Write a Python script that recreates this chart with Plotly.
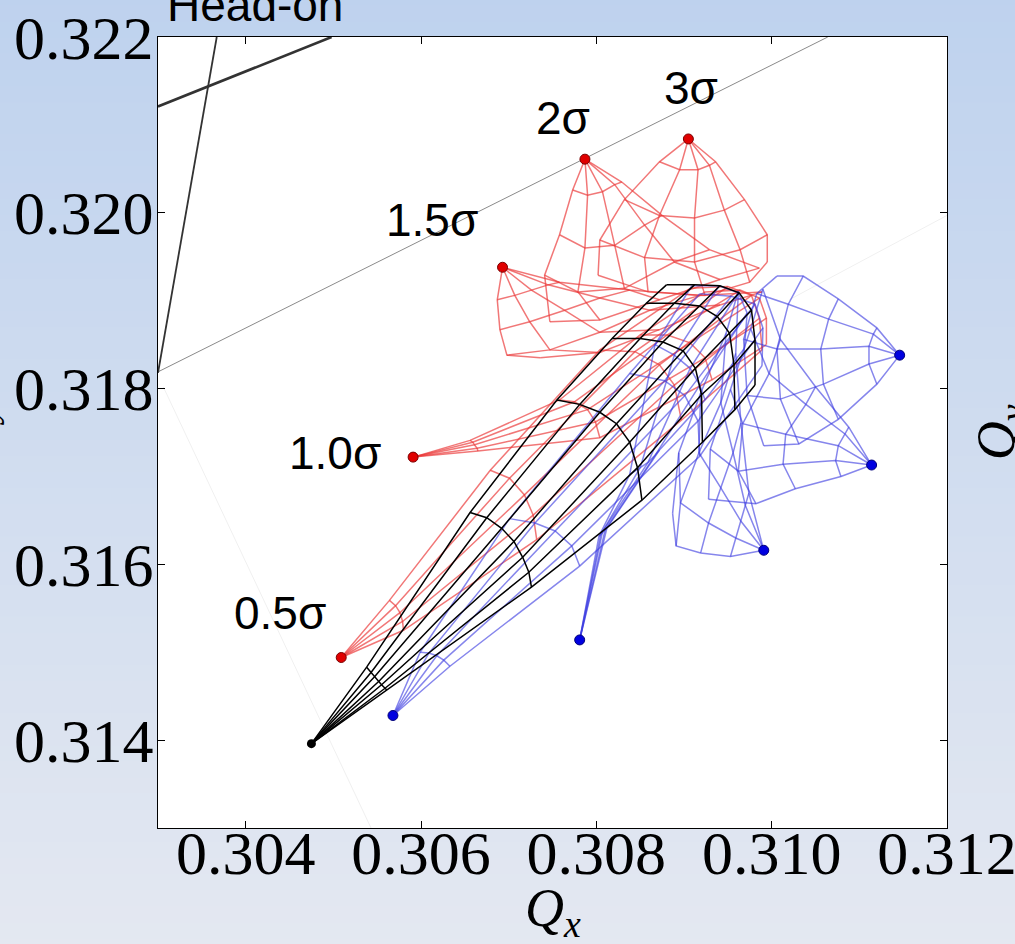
import plotly.graph_objects as go

# ---------------- data (tunes) ----------------
# head-on footprint (black): origin + amplitude arcs (7 angles each)
black_origin_qx = 0.30475
black_origin_qy = 0.31396
black_qx = [
    [0.30538, 0.30543, 0.30547, 0.30552, 0.30555, 0.30559, 0.30561],
    [0.30656, 0.30675, 0.30692, 0.30706, 0.30716, 0.30723, 0.30726],
    [0.30755, 0.30781, 0.30804, 0.30823, 0.30838, 0.30847, 0.30852],
    [0.30818, 0.30850, 0.30876, 0.30899, 0.30913, 0.30920, 0.30921],
    [0.30857, 0.30889, 0.30918, 0.30938, 0.30952, 0.30957, 0.30958],
    [0.30880, 0.30912, 0.30941, 0.30963, 0.30977, 0.30981, 0.30981],
]
black_qy = [
    [0.31483, 0.31477, 0.31472, 0.31467, 0.31463, 0.31459, 0.31457],
    [0.31659, 0.31653, 0.31641, 0.31626, 0.31608, 0.31591, 0.31574],
    [0.31787, 0.31782, 0.31773, 0.31760, 0.31739, 0.31710, 0.31673],
    [0.31857, 0.31857, 0.31853, 0.31843, 0.31823, 0.31793, 0.31739],
    [0.31897, 0.31897, 0.31894, 0.31882, 0.31863, 0.31827, 0.31776],
    [0.31918, 0.31918, 0.31917, 0.31909, 0.31889, 0.31855, 0.31804],
]

sep_labels = ["0.5σ", "1.0σ", "1.5σ", "2σ", "3σ"]
label_qx = [0.30439, 0.30502, 0.30612, 0.30762, 0.30908]
label_qy = [0.31542, 0.31724, 0.31990, 0.32106, 0.32140]

red_dot_qx = [0.30509, 0.30591, 0.30693, 0.30787, 0.30905]
red_dot_qy = [0.31494, 0.31722, 0.31938, 0.32061, 0.32084]
blue_dot_qx = [0.30568, 0.30781, 0.30991, 0.31114, 0.31146]
blue_dot_qy = [0.31428, 0.31514, 0.31616, 0.31713, 0.31838]

red_05_qx = [[0.30564, 0.30571, 0.30576, 0.30579, 0.30580],
             [0.30679, 0.30701, 0.30718, 0.30728, 0.30732],
             [0.30804, 0.30844, 0.30872, 0.30889, 0.30897],
             [0.30907, 0.30950, 0.30977, 0.30986, 0.30989]]
red_05_qy = [[0.31559, 0.31553, 0.31545, 0.31535, 0.31525],
             [0.31707, 0.31698, 0.31679, 0.31656, 0.31628],
             [0.31844, 0.31842, 0.31827, 0.31804, 0.31764],
             [0.31914, 0.31916, 0.31906, 0.31880, 0.31844]]
red_10_qx = [[0.30656, 0.30659, 0.30661, 0.30664, 0.30665],
             [0.30758, 0.30775, 0.30790, 0.30799, 0.30804],
             [0.30850, 0.30881, 0.30907, 0.30924, 0.30932],
             [0.30924, 0.30964, 0.30986, 0.30994, 0.30994]]
red_10_qy = [[0.31741, 0.31739, 0.31736, 0.31732, 0.31729],
             [0.31787, 0.31785, 0.31776, 0.31762, 0.31744],
             [0.31861, 0.31861, 0.31852, 0.31835, 0.31810],
             [0.31910, 0.31912, 0.31903, 0.31880, 0.31850]]
red_15_qx = [[0.30687, 0.30707, 0.30726, 0.30745, 0.30758],
             [0.30690, 0.30724, 0.30764, 0.30804, 0.30838],
             [0.30698, 0.30747, 0.30804, 0.30861, 0.30918],
             [0.30736, 0.30804, 0.30872, 0.30941, 0.30989]]
red_15_qy = [[0.31901, 0.31906, 0.31912, 0.31918, 0.31921],
             [0.31867, 0.31876, 0.31889, 0.31903, 0.31912],
             [0.31838, 0.31844, 0.31864, 0.31889, 0.31906],
             [0.31835, 0.31841, 0.31867, 0.31895, 0.31910]]
red_20_qx = [[0.30773, 0.30790, 0.30807, 0.30821, 0.30829],
             [0.30758, 0.30787, 0.30821, 0.30855, 0.30875],
             [0.30741, 0.30779, 0.30832, 0.30889, 0.30929],
             [0.30747, 0.30804, 0.30872, 0.30941, 0.30986]]
red_20_qy = [[0.32026, 0.32020, 0.32024, 0.32032, 0.32035],
             [0.31975, 0.31960, 0.31963, 0.31986, 0.31997],
             [0.31929, 0.31910, 0.31914, 0.31944, 0.31958],
             [0.31876, 0.31878, 0.31901, 0.31924, 0.31937]]
red_30_qx = [[0.30872, 0.30895, 0.30916, 0.30929, 0.30936],
             [0.30832, 0.30872, 0.30912, 0.30946, 0.30969],
             [0.30804, 0.30855, 0.30912, 0.30964, 0.30995],
             [0.30802, 0.30859, 0.30924, 0.30975, 0.30995]]
red_30_qy = [[0.32058, 0.32049, 0.32049, 0.32054, 0.32058],
             [0.32015, 0.31997, 0.31994, 0.32003, 0.32015],
             [0.31969, 0.31949, 0.31944, 0.31958, 0.31975],
             [0.31929, 0.31910, 0.31906, 0.31921, 0.31944]]

blue_05_qx = [[0.30633, 0.30626, 0.30618, 0.30609, 0.30599],
              [0.30781, 0.30772, 0.30753, 0.30730, 0.30701],
              [0.30918, 0.30916, 0.30901, 0.30878, 0.30838],
              [0.30989, 0.30990, 0.30981, 0.30954, 0.30918]]
blue_05_qy = [[0.31484, 0.31491, 0.31496, 0.31499, 0.31500],
              [0.31598, 0.31621, 0.31638, 0.31647, 0.31652],
              [0.31723, 0.31763, 0.31792, 0.31809, 0.31817],
              [0.31826, 0.31869, 0.31896, 0.31905, 0.31908]]
blue_10_qx = [[0.30812, 0.30810, 0.30807, 0.30805, 0.30803],
              [0.30872, 0.30867, 0.30859, 0.30850, 0.30838],
              [0.30924, 0.30918, 0.30907, 0.30889, 0.30867],
              [0.30969, 0.30972, 0.30962, 0.30940, 0.30909]]
blue_10_qy = [[0.31641, 0.31639, 0.31637, 0.31634, 0.31632],
              [0.31730, 0.31724, 0.31716, 0.31710, 0.31702],
              [0.31787, 0.31804, 0.31823, 0.31838, 0.31850],
              [0.31846, 0.31886, 0.31909, 0.31917, 0.31917]]
blue_15_qx = [[0.30953, 0.30959, 0.30965, 0.30970, 0.30974],
              [0.30919, 0.30928, 0.30942, 0.30956, 0.30965],
              [0.30891, 0.30896, 0.30917, 0.30942, 0.30959],
              [0.30887, 0.30894, 0.30919, 0.30948, 0.30962]]
blue_15_qy = [[0.31609, 0.31630, 0.31649, 0.31667, 0.31681],
              [0.31613, 0.31647, 0.31687, 0.31727, 0.31761],
              [0.31621, 0.31670, 0.31727, 0.31784, 0.31840],
              [0.31658, 0.31727, 0.31795, 0.31863, 0.31911]]
blue_20_qx = [[0.31079, 0.31073, 0.31076, 0.31084, 0.31088],
              [0.31027, 0.31013, 0.31016, 0.31039, 0.31050],
              [0.30982, 0.30962, 0.30967, 0.30997, 0.31010],
              [0.30928, 0.30930, 0.30953, 0.30976, 0.30990]]
blue_20_qy = [[0.31700, 0.31718, 0.31735, 0.31748, 0.31756],
              [0.31686, 0.31714, 0.31748, 0.31782, 0.31802],
              [0.31669, 0.31706, 0.31760, 0.31817, 0.31856],
              [0.31674, 0.31731, 0.31799, 0.31868, 0.31913]]
blue_30_qx = [[0.31120, 0.31111, 0.31111, 0.31116, 0.31120],
              [0.31076, 0.31059, 0.31056, 0.31065, 0.31076],
              [0.31031, 0.31010, 0.31006, 0.31019, 0.31036],
              [0.30991, 0.30972, 0.30968, 0.30983, 0.31006]]
blue_30_qy = [[0.31805, 0.31828, 0.31848, 0.31862, 0.31869],
              [0.31765, 0.31805, 0.31845, 0.31879, 0.31902],
              [0.31737, 0.31788, 0.31845, 0.31896, 0.31928],
              [0.31735, 0.31792, 0.31856, 0.31908, 0.31928]]

# resonance lines
res_thick_qx = [0.30300, 0.30498]
res_thick_qy = [0.32121, 0.32200]
res_steep_qx = [0.30367, 0.30300]
res_steep_qy = [0.32200, 0.31818]
res_gray_qx = [0.30300, 0.31064]
res_gray_qy = [0.31819, 0.32200]
res_faint1_qx = [0.30306, 0.30543]
res_faint1_qy = [0.31802, 0.31300]
res_faint2_qx = [0.31020, 0.31200]
res_faint2_qy = [0.31901, 0.31997]

x_ticks = [0.304, 0.306, 0.308, 0.310, 0.312]
x_ticktext = ["0.304", "0.306", "0.308", "0.310", "0.312"]
y_ticks = [0.314, 0.316, 0.318, 0.320, 0.322]
y_ticktext = ["0.314", "0.316", "0.318", "0.320", "0.322"]


def wire(dx, dy, rows_x, rows_y):
    xs, ys = [], []
    for rx, ry in zip(rows_x, rows_y):
        xs += list(rx) + [None]
        ys += list(ry) + [None]
    for c in range(len(rows_x[0])):
        xs += [dx] + [r[c] for r in rows_x] + [None]
        ys += [dy] + [r[c] for r in rows_y] + [None]
    return xs, ys


fig = go.Figure()

# resonance lines
fig.add_trace(go.Scatter(x=res_faint1_qx, y=res_faint1_qy, mode="lines",
                         line=dict(color="#f0f0f0", width=1), hoverinfo="skip"))
fig.add_trace(go.Scatter(x=res_faint2_qx, y=res_faint2_qy, mode="lines",
                         line=dict(color="#f0f0f0", width=1), hoverinfo="skip"))
fig.add_trace(go.Scatter(x=res_gray_qx, y=res_gray_qy, mode="lines",
                         line=dict(color="#8a8a8a", width=1), hoverinfo="skip"))
fig.add_trace(go.Scatter(x=res_thick_qx, y=res_thick_qy, mode="lines",
                         line=dict(color="#333333", width=2.6), hoverinfo="skip"))
fig.add_trace(go.Scatter(x=res_steep_qx, y=res_steep_qy, mode="lines",
                         line=dict(color="#333333", width=1.8), hoverinfo="skip"))

red_grids = [(red_05_qx, red_05_qy), (red_10_qx, red_10_qy), (red_15_qx, red_15_qy),
             (red_20_qx, red_20_qy), (red_30_qx, red_30_qy)]
blue_grids = [(blue_05_qx, blue_05_qy), (blue_10_qx, blue_10_qy), (blue_15_qx, blue_15_qy),
              (blue_20_qx, blue_20_qy), (blue_30_qx, blue_30_qy)]

for i, (gx, gy) in enumerate(red_grids):
    xs, ys = wire(red_dot_qx[i], red_dot_qy[i], gx, gy)
    fig.add_trace(go.Scatter(x=xs, y=ys, mode="lines",
                             line=dict(color="rgba(235,55,55,0.68)", width=1.5),
                             hoverinfo="skip"))
for i, (gx, gy) in enumerate(blue_grids):
    xs, ys = wire(blue_dot_qx[i], blue_dot_qy[i], gx, gy)
    fig.add_trace(go.Scatter(x=xs, y=ys, mode="lines",
                             line=dict(color="rgba(60,60,225,0.62)", width=1.5),
                             hoverinfo="skip"))

xs, ys = wire(black_origin_qx, black_origin_qy, black_qx, black_qy)
fig.add_trace(go.Scatter(x=xs, y=ys, mode="lines",
                         line=dict(color="black", width=1.5), hoverinfo="skip"))

fig.add_trace(go.Scatter(x=red_dot_qx, y=red_dot_qy, mode="markers",
                         marker=dict(color="#e00000", size=10,
                                     line=dict(color="#7a0000", width=1))))
fig.add_trace(go.Scatter(x=blue_dot_qx, y=blue_dot_qy, mode="markers",
                         marker=dict(color="#0000e0", size=10,
                                     line=dict(color="#00007a", width=1))))
fig.add_trace(go.Scatter(x=[black_origin_qx], y=[black_origin_qy], mode="markers",
                         marker=dict(color="black", size=9)))

annotations = []
for t, ax_, ay_ in zip(sep_labels, label_qx, label_qy):
    annotations.append(dict(x=ax_, y=ay_, xref="x", yref="y", text=t, showarrow=False,
                            font=dict(family="Liberation Sans", size=46, color="black"),
                            xanchor="center", yanchor="middle", yshift=2))

annotations += [
    dict(x=0.009, y=1, xref="paper", yref="paper", text="Head-on", showarrow=False,
         xanchor="left", yanchor="bottom", yshift=4,
         font=dict(family="Liberation Sans", size=46, color="black")),
    dict(x=0.500, y=-0.106, xref="paper", yref="paper",
         text="<i>Q</i><sub><i>x</i></sub>", showarrow=False,
         xanchor="center", yanchor="middle",
         font=dict(family="Liberation Serif", size=54, color="black")),
    dict(x=1.067, y=0.50, xref="paper", yref="paper",
         text="<i>Q</i><sub><i>y</i></sub>", showarrow=False, textangle=-90,
         xanchor="center", yanchor="middle",
         font=dict(family="Liberation Serif", size=54, color="black")),
    dict(x=-0.238, y=0.50, xref="paper", yref="paper",
         text="<i>Q</i><sub><i>y</i></sub>", showarrow=False, textangle=-90,
         xanchor="center", yanchor="middle",
         font=dict(family="Liberation Serif", size=54, color="black")),
]

# slide background gradient (styling)
shapes = []
nb = 60
top = (190, 210, 238)
bot = (228, 232, 241)
y_lo, y_hi = -0.16, 1.06
for k in range(nb):
    f = k / (nb - 1)
    c = tuple(round(top[j] + (bot[j] - top[j]) * f) for j in range(3))
    y1 = y_hi - (y_hi - y_lo) * k / nb
    y0 = y_hi - (y_hi - y_lo) * (k + 1) / nb - 0.002
    shapes.append(dict(type="rect", xref="paper", yref="paper", x0=-0.3, x1=1.2,
                       y0=y0, y1=y1, fillcolor="rgb(%d,%d,%d)" % c,
                       line=dict(width=0), layer="below"))
shapes.append(dict(type="rect", xref="paper", yref="paper", x0=0, x1=1, y0=0, y1=1,
                   fillcolor="white", line=dict(width=0), layer="below"))

axis_common = dict(showgrid=False, zeroline=False, ticks="inside", ticklen=7,
                   tickwidth=1, tickcolor="black", showline=True, linecolor="black",
                   linewidth=1.2, mirror="ticks", automargin=False,
                   ticklabeloverflow="allow",
                   tickfont=dict(family="Liberation Serif", size=62, color="black"))

fig.update_layout(
    width=1015, height=944, autosize=False,
    margin=dict(l=158, r=68, t=37, b=116, pad=0),
    paper_bgcolor="rgb(212,222,240)", plot_bgcolor="white",
    showlegend=False,
    xaxis=dict(range=[0.303, 0.312], tickvals=x_ticks, ticktext=x_ticktext,
               ticklabelstandoff=-30, **axis_common),
    yaxis=dict(range=[0.313, 0.322], tickvals=y_ticks, ticktext=y_ticktext,
               ticklabelstandoff=-9, **axis_common),
    annotations=annotations,
    shapes=shapes,
)

fig.write_html("out.html")
